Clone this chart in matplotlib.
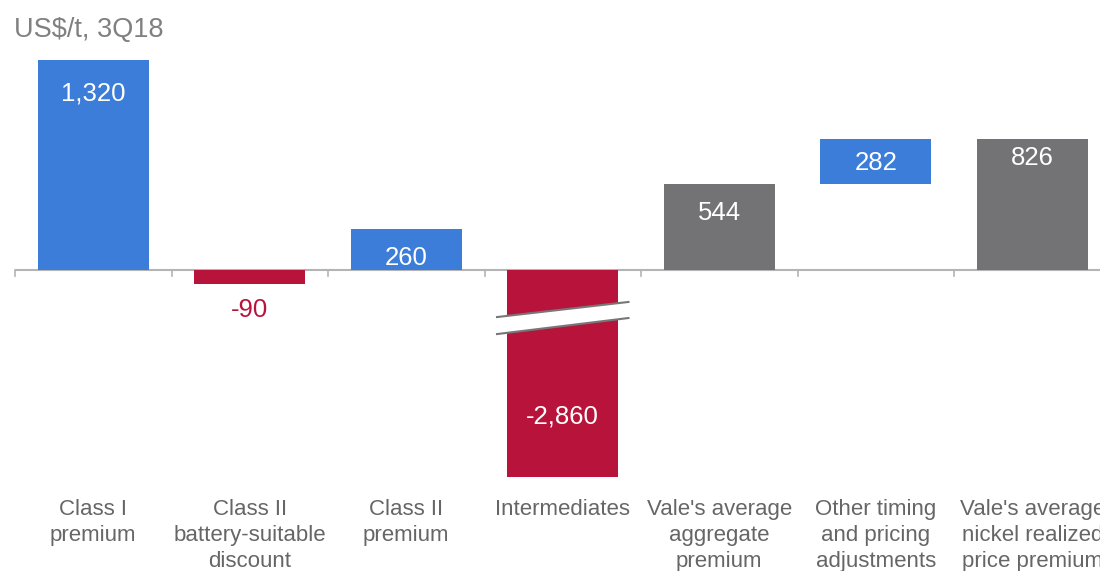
import matplotlib.pyplot as plt
from matplotlib.patches import Polygon

categories = ["Class I\npremium", "Class II\nbattery-suitable\ndiscount", "Class II\npremium",
              "Intermediates", "Vale's average\naggregate\npremium", "Other timing\nand pricing\nadjustments",
              "Vale's average\nnickel realized\nprice premium"]
values = [1320, -90, 260, -2860, 544, 282, 826]
bases = [0, 0, 0, 0, 0, 544, 0]
kinds = ["up", "down", "up", "down", "total", "up", "total"]

colors = {"up": "#3b7dd8", "down": "#b8133b", "total": "#737375"}
plt.rcParams['font.family'] = ['Liberation Sans', 'DejaVu Sans']

fig = plt.figure(figsize=(11, 5.71), dpi=100)
ax = fig.add_axes([15 / 1100, 94 / 571, 1095.5 / 1100, 428 / 571])
ax.set_xlim(-0.5, len(values) - 0.5)
ax.set_ylim(-1302, 1390)
ax.axis('off')

x = range(len(values))
bars = ax.bar(x, values, bottom=bases, width=0.71,
              color=[colors[k] for k in kinds], zorder=2)

# zero line and category separators
ax.axhline(0, color='#b4b4b4', lw=1.5, zorder=1)
for b in range(len(values) + 1):
    ax.plot([b - 0.5, b - 0.5], [0, -38], color='#b4b4b4', lw=1.2, zorder=1, clip_on=False)

# value labels
offsets = [-24, 0, -21, 0, -21, 0, -14]
for i, (v, base, k) in enumerate(zip(values, bases, kinds)):
    txt = f"{v:,}"
    if k == "down" and v > -500:
        ax.annotate(txt, (i, base + v), xytext=(0, -10), textcoords='offset points',
                    ha='center', va='top', fontsize=18.5, color=colors["down"])
    elif v < -500:
        ax.annotate(txt, (i, ax.get_ylim()[0]), xytext=(0, 43.5), textcoords='offset points',
                    ha='center', va='center', fontsize=18.5, color='white')
    elif k == "up" and base > 0:
        ax.annotate(txt, (i, base + v / 2), xytext=(0, -1.5), textcoords='offset points',
                    ha='center', va='center', fontsize=18.5, color='white')
    else:
        ax.annotate(txt, (i, base + v), xytext=(0, offsets[i]), textcoords='offset points',
                    ha='center', va='center', fontsize=18.5, color='white')

# axis break on the intermediates bar
xl, xr = 3 - 0.42, 3 + 0.42
gap = Polygon([(xl, -296), (xr, -201), (xr, -302), (xl, -403)], closed=True,
              facecolor='white', edgecolor='none', zorder=3)
ax.add_patch(gap)
ax.plot([xl, xr], [-296, -201], color='#777777', lw=1.5, zorder=4)
ax.plot([xl, xr], [-403, -302], color='#777777', lw=1.5, zorder=4)

# category labels
for i, c in enumerate(categories):
    ax.annotate(c, (i, 0), xycoords=('data', 'axes fraction'), xytext=(0, -15.5),
                textcoords='offset points', ha='center', va='top', fontsize=16,
                color='#666666', linespacing=1.32, annotation_clip=False)

fig.text(14 / 1100, 1 - 30 / 571, "US$/t, 3Q18", fontsize=19.5, color='#808080',
         ha='left', va='center')

fig.savefig('out.png', dpi=100)
